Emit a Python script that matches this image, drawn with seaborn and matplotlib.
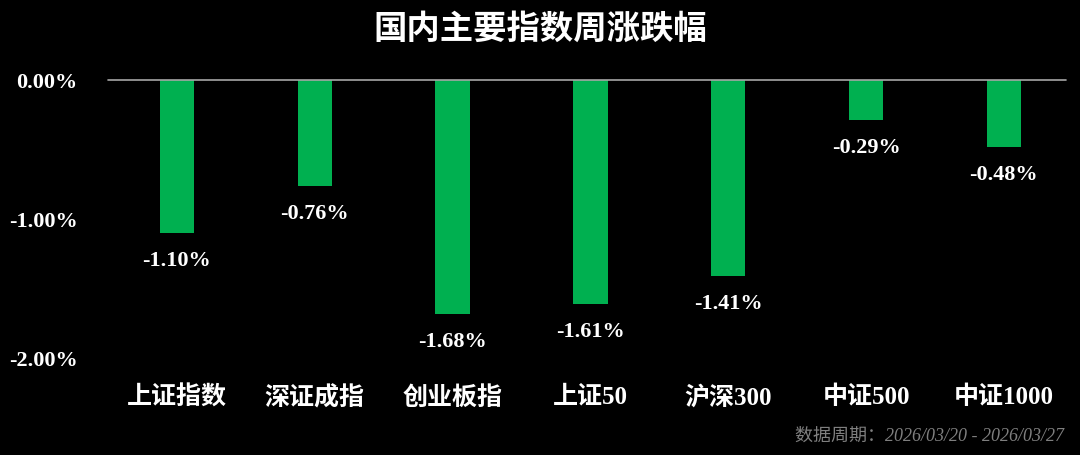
import matplotlib
matplotlib.use("Agg")
import matplotlib.pyplot as plt
import seaborn as sns
import pandas as pd

# 数据
indices = ["上证指数", "深证成指", "创业板指", "上证50", "沪深300", "中证500", "中证1000"]
changes = [-1.10, -0.76, -1.68, -1.61, -1.41, -0.29, -0.48]
yticks = [0.0, -1.0, -2.0]

sns.set_theme(style="white")
plt.rcParams["font.family"] = ["Liberation Serif", "Noto Sans CJK SC", "DejaVu Sans"]

df = pd.DataFrame({"index": indices, "change": changes})

fig = plt.figure(figsize=(10.8, 4.55), dpi=100, facecolor="black")
ax = fig.add_axes([0.1, 0.213, 0.887, 0.611])
ax.set_facecolor("black")

sns.barplot(data=df, x="index", y="change", color="#00b050", width=0.25,
            saturation=1, linewidth=0, ax=ax)

ax.set_ylim(-2.0, 0.0)
ax.set_xlim(-0.5, 6.45)
for s in ax.spines.values():
    s.set_visible(False)
ax.axhline(0, color="#a6a6a6", lw=1.2, clip_on=False)

ax.set_yticks(yticks)
ax.set_yticklabels([f"{v:.2f}%" for v in yticks], color="white",
                   fontsize=16, fontweight="bold", family="Liberation Serif")
ax.tick_params(axis="y", length=0, pad=22)
ax.set_xticks(range(len(indices)))
ax.set_xticklabels(indices, color="white", fontsize=18, fontweight="bold",
                   family=["Liberation Serif", "Noto Sans CJK SC"])
ax.tick_params(axis="x", length=0, pad=20)
ax.set_xlabel("")
ax.set_ylabel("")

# 数值标签
for i, v in enumerate(changes):
    ax.annotate(f"{v:.2f}%", (i, v), xytext=(0, -13), textcoords="offset points",
                ha="center", va="top", color="white", fontsize=16,
                fontweight="bold", family="Liberation Serif", clip_on=False)

fig.text(0.5, 0.935, "国内主要指数周涨跌幅", ha="center", va="center",
         color="white", fontsize=24, fontweight="bold", family="Noto Sans CJK SC")
fig.text(0.985, 0.022, "数据周期：2026/03/20 - 2026/03/27", ha="right", va="bottom",
         color="#7f7f7f", fontsize=13, style="italic",
         family=["Liberation Serif", "Noto Sans CJK SC"])

fig.savefig("out.png", dpi=100, facecolor="black")
